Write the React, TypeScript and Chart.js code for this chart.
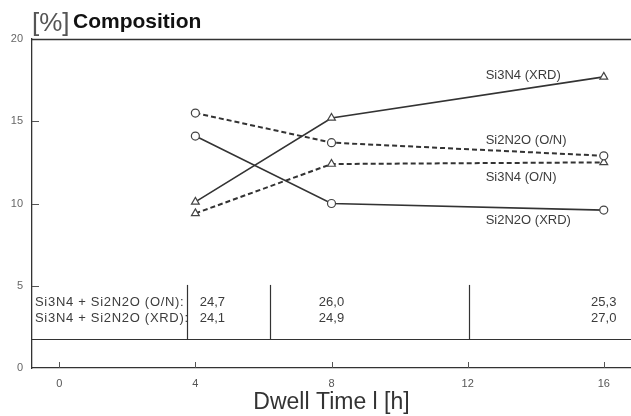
import React, { useEffect, useRef } from "react";
import { Chart, registerables } from "chart.js";

Chart.register(...registerables);

// ---- data ----
const dwellTimes = [4, 8, 16];
const si3n4Xrd = [10.1, 15.2, 17.7];
const si2n2oOn = [15.5, 13.7, 12.9];
const si3n4On = [9.4, 12.4, 12.5];
const si2n2oXrd = [14.1, 10.0, 9.6];
const seriesLabels = ["Si3N4 (XRD)", "Si2N2O (O/N)", "Si3N4 (O/N)", "Si2N2O (XRD)"];
const xTicks = [0, 4, 8, 12, 16];
const yTicks = [0, 5, 10, 15, 20];
const tableRowLabels = ["Si3N4 + Si2N2O (O/N):", "Si3N4 + Si2N2O (XRD):"];
const tableOnValues = ["24,7", "26,0", "25,3"];
const tableXrdValues = ["24,1", "24,9", "27,0"];
const titleUnit = "[%]";
const titleText = "Composition";
const xTitle = "Dwell Time l [h]";

const FONT = "'Liberation Sans', Arial, Helvetica, sans-serif";
const INK = "#333";

const toPoints = (ys: number[]) => dwellTimes.map((x, i) => ({ x, y: ys[i] }));

const decorPlugin = {
  id: "decor",
  afterDraw(chart: any) {
    const { ctx, chartArea, scales } = chart;
    const xs = scales.x;
    const ys = scales.y;
    const right = chart.width;
    ctx.save();
    // top border
    ctx.strokeStyle = INK;
    ctx.lineWidth = 1.3;
    ctx.beginPath();
    ctx.moveTo(chartArea.left, chartArea.top + 0.5);
    ctx.lineTo(right, chartArea.top + 0.5);
    ctx.stroke();

    // inner ticks
    ctx.lineWidth = 1;
    ctx.strokeStyle = "#555";
    [5, 10, 15].forEach((v) => {
      const py = Math.round(ys.getPixelForValue(v)) + 0.5;
      ctx.beginPath();
      ctx.moveTo(chartArea.left, py);
      ctx.lineTo(chartArea.left + 7, py);
      ctx.stroke();
    });
    xTicks.forEach((v) => {
      const px = Math.round(xs.getPixelForValue(v)) + 0.5;
      ctx.beginPath();
      ctx.moveTo(px, chartArea.bottom);
      ctx.lineTo(px, chartArea.bottom - 6);
      ctx.stroke();
    });

    // table lines
    const tableBase = 1.76;
    const tableTop = 5.05;
    const sepX = [3.74, 6.18, 12.03];
    ctx.strokeStyle = INK;
    ctx.lineWidth = 1.2;
    const by = Math.round(ys.getPixelForValue(tableBase)) + 0.5;
    ctx.beginPath();
    ctx.moveTo(chartArea.left, by);
    ctx.lineTo(right, by);
    ctx.stroke();
    sepX.forEach((v) => {
      const px = Math.round(xs.getPixelForValue(v)) + 0.5;
      ctx.beginPath();
      ctx.moveTo(px, by);
      ctx.lineTo(px, ys.getPixelForValue(tableTop));
      ctx.stroke();
    });

    // table text
    ctx.fillStyle = "#3c3c3c";
    ctx.font = `13px ${FONT}`;
    (ctx as any).letterSpacing = "0.7px";
    ctx.textBaseline = "middle";
    ctx.textAlign = "left";
    const rowY = [4.0, 3.0];
    tableRowLabels.forEach((t, i) => {
      ctx.fillText(t, chartArea.left + 3, ys.getPixelForValue(rowY[i]));
    });
    (ctx as any).letterSpacing = "0px";
    ctx.textAlign = "center";
    const colX = [4.5, 8, 16];
    [tableOnValues, tableXrdValues].forEach((row, r) => {
      row.forEach((t, i) => {
        ctx.fillText(t, xs.getPixelForValue(colX[i]), ys.getPixelForValue(rowY[r]));
      });
    });

    // series labels
    ctx.textAlign = "left";
    ctx.font = `13px ${FONT}`;
    const labelX = 12.53;
    const labelY = [17.8, 13.86, 11.6, 9.0];
    seriesLabels.forEach((t, i) => {
      ctx.fillText(t, xs.getPixelForValue(labelX), ys.getPixelForValue(labelY[i]));
    });

    // title
    ctx.textBaseline = "alphabetic";
    ctx.fillStyle = "#555";
    ctx.font = `26px ${FONT}`;
    ctx.fillText(titleUnit, 32, 31);
    ctx.fillStyle = "#111";
    ctx.font = `bold 21px ${FONT}`;
    ctx.fillText(titleText, 73, 28);
    ctx.restore();
  },
};

export default function App() {
  const ref = useRef<HTMLCanvasElement | null>(null);
  useEffect(() => {
    if (!ref.current) return;
    const solid = {
      borderColor: INK,
      borderWidth: 1.6,
      pointBackgroundColor: "#fff",
      pointBorderColor: "#444",
      pointBorderWidth: 1.2,
      showLine: true,
      fill: false,
      tension: 0,
      clip: false,
    };
    const chart = new Chart(ref.current, {
      type: "scatter",
      data: {
        datasets: [
          { ...solid, label: seriesLabels[0], data: toPoints(si3n4Xrd), pointStyle: "triangle", pointRadius: 4.5 },
          { ...solid, label: seriesLabels[1], data: toPoints(si2n2oOn), pointStyle: "circle", pointRadius: 4, borderDash: [5, 3], borderWidth: 2 },
          { ...solid, label: seriesLabels[2], data: toPoints(si3n4On), pointStyle: "triangle", pointRadius: 4.5, borderDash: [5, 3], borderWidth: 2 },
          { ...solid, label: seriesLabels[3], data: toPoints(si2n2oXrd), pointStyle: "circle", pointRadius: 4 },
        ] as any,
      },
      options: {
        animation: false,
        responsive: false,
        layout: { autoPadding: false, padding: { top: 39, left: 0, right: 0, bottom: 0 } },
        plugins: { legend: { display: false }, tooltip: { enabled: false } },
        scales: {
          x: {
            type: "linear",
            min: -0.8,
            max: 16.8,
            afterBuildTicks: (scale: any) => {
              scale.ticks = xTicks.map((v) => ({ value: v }));
            },
            afterFit: (scale: any) => {
              scale.height = 48;
              scale.paddingRight = 0;
              scale.paddingLeft = 0;
            },
            grid: { display: true, drawOnChartArea: false, drawTicks: false },
            border: { display: true, color: INK, width: 1.3 },
            ticks: { color: "#555", font: { family: FONT, size: 11 }, padding: 9, maxRotation: 0 },
            title: {
              display: true,
              text: xTitle,
              color: "#333",
              font: { family: FONT, size: 23 },
              padding: { top: 0, bottom: 0 },
            },
          },
          y: {
            type: "linear",
            min: 0,
            max: 20,
            afterBuildTicks: (scale: any) => {
              scale.ticks = yTicks.map((v) => ({ value: v }));
            },
            afterFit: (scale: any) => {
              scale.width = 32;
              scale.paddingTop = 0;
              scale.paddingBottom = 0;
            },
            grid: { display: true, drawOnChartArea: false, drawTicks: false },
            border: { display: true, color: INK, width: 1.3 },
            ticks: { color: "#666", font: { family: FONT, size: 11 }, padding: 9 },
          },
        },
      },
      plugins: [decorPlugin],
    });
    return () => chart.destroy();
  }, []);
  return (
    <div style={{ position: "fixed", left: 0, top: 0, width: 631, height: 416, background: "#fff" }}>
      <canvas ref={ref} width={631} height={416} />
    </div>
  );
}
